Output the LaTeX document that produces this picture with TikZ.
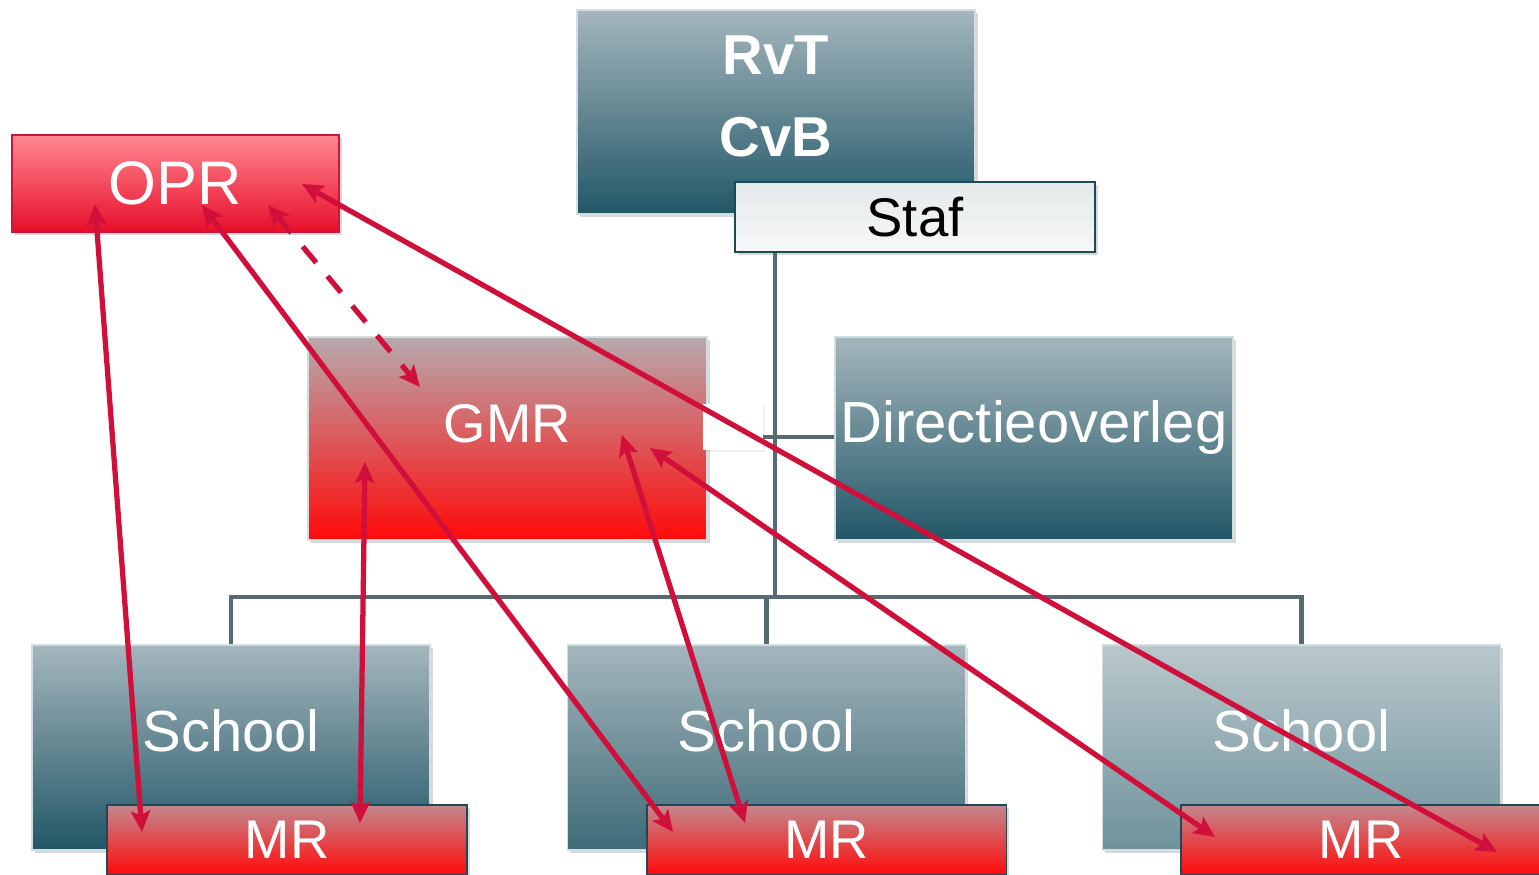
\documentclass[tikz,border=0pt]{standalone}
\usepackage{fontspec}
\setmainfont{Liberation Sans}
\usetikzlibrary{
	arrows.meta,
	calc,
	shadows,
}
\definecolor{tealtop}{HTML}{A4B6BD}
\definecolor{tealbot}{HTML}{225767}
\definecolor{tealmid}{HTML}{3E6B78}
\definecolor{tealpale}{HTML}{B9C7CC}
\definecolor{tealfade}{HTML}{6F929C}
\definecolor{bevel}{HTML}{D3DDE0}
\definecolor{darkedge}{HTML}{1D4A57}
\definecolor{treegrey}{HTML}{566A72}
\definecolor{linkred}{HTML}{D0103A}
\definecolor{oprtop}{HTML}{FF8891}
\definecolor{oprbot}{HTML}{E80E2B}
\definecolor{opredge}{HTML}{C8163C}
\definecolor{gmrtop}{HTML}{B7A9AD}
\definecolor{mrtop}{HTML}{C3888E}
\definecolor{hotred}{HTML}{FF0A0A}
\definecolor{staftop}{HTML}{E4E9EA}
\definecolor{stafbot}{HTML}{F7F8F8}
\tikzset{org box/.style={
	rectangle,
	inner sep=0pt,
	minimum width=7.96cm,
	minimum height=4.08cm,
	draw=bevel,
	line width=0.7pt,
	text=white,
	font=\fontsize{33}{40}\selectfont,
	text height=23pt,
	text depth=18pt,
	drop shadow={opacity=0.3, shadow xshift=1.5pt, shadow yshift=-1.5pt},
}}
\tikzset{teal box/.style={
	org box,
	top color=tealtop,
	bottom color=tealbot,
}}
\tikzset{red box/.style={
	org box,
	top color=gmrtop,
	bottom color=hotred,
}}
\tikzset{bar box/.style={
	org box,
	minimum width=7.2cm,
	minimum height=1.4cm,
	draw=darkedge,
	line width=1.1pt,
	font=\fontsize{31}{37}\selectfont,
	text height=, text depth=,
}}
\tikzset{tree line/.style={
	draw=treegrey,
	line width=2.8pt,
}}
\tikzset{link/.style={
	{Stealth[length=12pt, width=11pt, inset=2.5pt]}-{Stealth[length=12pt, width=11pt, inset=2.5pt]},
	draw=linkred,
	line width=3pt,
}}

\begin{document}
\begin{tikzpicture}[x=0.02cm, y=-0.02cm]
\useasboundingbox (0,0) rectangle (1539,875);
\clip (0,0) rectangle (1539,875);

% board and staff
\node[teal box, minimum height=4.08cm](board) at (776,112) {};
\node[bar box, top color=staftop, bottom color=stafbot, text=black](staf) at (915,217) {Staf};

% councils
\node[org box, minimum width=6.54cm, minimum height=1.94cm, draw=opredge,
	top color=oprtop, bottom color=oprbot,
	font=\fontsize{35}{42}\selectfont, text height=, text depth=](opr) at (175.5,183.5) {OPR};
\node[red box, minimum width=7.98cm, minimum height=4.06cm, font=\fontsize{31}{37}\selectfont](gmr) at (507.5,438.5) {GMR};
\node[teal box, minimum height=4.06cm](dir) at (1034,438.5) {Directieoverleg};
\node[draw=none, fill=white, minimum width=1.2cm, minimum height=0.92cm,
	drop shadow={opacity=0.12, shadow xshift=1pt, shadow yshift=-1pt}](gap) at (733,427) {};

% schools
\node[teal box, minimum height=4.1cm](school1) at (231,747.5) {School};
\node[teal box, minimum height=4.1cm, bottom color=tealmid](school2) at (766.5,747.5) {School};
\node[teal box, minimum height=4.1cm, top color=tealpale, bottom color=tealfade](school3) at (1301.5,747.5) {School};

\node[bar box, top color=mrtop, bottom color=hotred](mr1) at (287,840) {MR};
\node[bar box, top color=mrtop, bottom color=hotred](mr2) at (826.5,840) {MR};
\node[bar box, top color=mrtop, bottom color=hotred](mr3) at (1361,840) {MR};

\node[draw=none, align=center, text=white, font=\fontsize{32}{47}\selectfont\bfseries](boardtext) at (776,96.5) {RvT\\CvB};

% tree
\coordinate(bus) at (775,597);
\coordinate(dirstub) at (763,437);
\draw[tree line] (bus) -- (bus |- staf.south);
\draw[tree line] (school1.north) |- (bus) -| (school3.north);
\draw[tree line] (school2.north) -- (school2.north |- bus);
\draw[tree line] (dirstub) -- (dirstub -| dir.west);

% participation links
\coordinate(opr a) at (95,204);
\coordinate(opr b) at (202,205);
\coordinate(opr c) at (268,205);
\coordinate(opr d) at (302,184);
\coordinate(gmr a) at (365,462);
\coordinate(gmr b) at (420,387);
\coordinate(gmr c) at (622,435);
\coordinate(gmr d) at (650,448);
\coordinate(mr1 a) at (142,832);
\coordinate(mr1 b) at (360,823);
\coordinate(mr2 a) at (673,832);
\coordinate(mr2 b) at (745,823);
\coordinate(mr3 a) at (1215,837);
\coordinate(mr3 b) at (1497,852);

\draw[link] (opr a) -- (mr1 a);
\draw[link] (gmr a) -- (mr1 b);
\draw[link] (opr b) -- (mr2 a);
\draw[link] (gmr c) -- (mr2 b);
\draw[link] (gmr d) -- (mr3 a);
\draw[link] (opr d) -- (mr3 b);
\draw[link, dash pattern=on 12pt off 10pt] (opr c) -- (gmr b);

\end{tikzpicture}
\end{document}
